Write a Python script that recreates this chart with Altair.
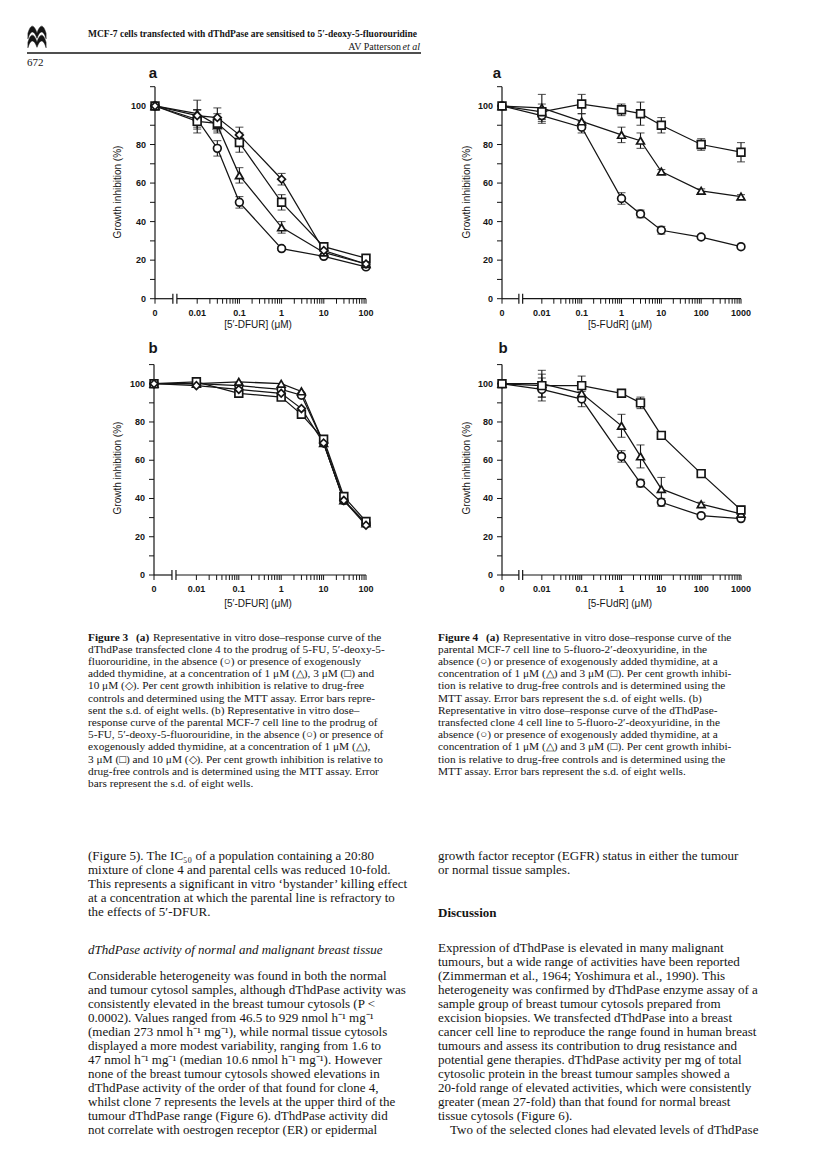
import altair as alt
import pandas as pd

# ======================= DATA =======================
# Figure 3a: dThdPase-transfected clone 4, [5'-DFUR] (uM); 0 = drug-free
DOSE_3A = [0, 0.01, 0.03, 0.1, 1, 10, 100]
F3A_CTRL = [100, 93, 78, 50, 26, 22, 16.5]
F3A_CTRL_SD = [0, 5, 4, 3, 1, 0, 0]
F3A_T1 = [100, 96, 90, 64, 37, 24, 18]
F3A_T1_SD = [0, 7, 3, 4, 3, 0, 0]
F3A_T3 = [100, 92, 91, 81, 50, 27, 21]
F3A_T3_SD = [0, 6, 5, 5, 4, 0, 0]
F3A_T10 = [100, 95, 94, 85, 62, 25, 18]
F3A_T10_SD = [0, 3, 5, 4, 3, 0, 0]

# Figure 3b: parental MCF-7, [5'-DFUR] (uM)
DOSE_3B = [0, 0.01, 0.1, 1, 3, 10, 30, 100]
F3B_CTRL = [100, 100, 99, 97, 94, 69, 39, 27]
F3B_T1 = [100, 100, 101, 100, 96, 69, 39, 27]
F3B_T3 = [100, 101, 95, 93, 84, 71, 41, 28]
F3B_T10 = [100, 99, 97, 95, 87, 69, 39, 26]
F3B_SD = [0, 0, 0, 0, 0, 0, 0, 0]

# Figure 4a: parental MCF-7, [5-FUdR] (uM)
DOSE_4 = [0, 0.01, 0.1, 1, 3, 10, 100, 1000]
F4A_CTRL = [100, 95, 89, 52, 44, 35.5, 32, 27]
F4A_CTRL_SD = [0, 4, 3, 3, 2, 2, 1, 1]
F4A_T1 = [100, 99, 92, 85, 82, 66, 56, 53]
F4A_T1_SD = [0, 7, 4, 4, 4, 1, 1, 1]
F4A_T3 = [100, 97, 101, 98, 96, 90, 80, 76]
F4A_T3_SD = [0, 4, 5, 3, 6, 4, 3, 5]

# Figure 4b: clone 4, [5-FUdR] (uM)
F4B_CTRL = [100, 97, 92, 62, 48, 38, 31, 29.5]
F4B_CTRL_SD = [0, 6, 4, 3, 2, 2, 1, 1]
F4B_T1 = [100, 100, 95, 78, 62, 45, 37, 32]
F4B_T1_SD = [0, 7, 3, 6, 6, 6, 1, 1]
F4B_T3 = [100, 99, 99, 95, 90, 73, 53, 34]
F4B_T3_SD = [0, 6, 5, 2, 3, 1, 1, 2]

SERIES = ["none", "1 \u03bcM", "3 \u03bcM", "10 \u03bcM"]
SHAPES = ["circle", "triangle-up", "square", "diamond"]

# axis ticks / labels
Y_TICKS = [0, 10, 20, 30, 40, 50, 60, 70, 80, 90, 100, 110]
Y_LABEL_POS = [0, 20, 40, 60, 80, 100]
Y_LABELS = ["0", "20", "40", "60", "80", "100"]
X_LABEL_POS_3 = [0, 0.01, 0.1, 1, 10, 100]
X_LABELS_3 = ["0", "0.01", "0.1", "1", "10", "100"]
X_LABEL_POS_4 = [0, 0.01, 0.1, 1, 10, 100, 1000]
X_LABELS_4 = ["0", "0.01", "0.1", "1", "10", "100", "1000"]
X_DECADES = [0.01, 0.1, 1, 10, 100, 1000]
X_MULT = [1, 2, 3, 4, 5, 6, 7, 8, 9]

# ======================= TEXT =======================
HEADER_TITLE = "MCF-7 cells transfected with dThdPase are sensitised to 5\u2032-deoxy-5-fluorouridine"
HEADER_AUTHOR = "AV Patterson"
HEADER_ETAL = "et al"
PAGE_NO = "672"
Y_TITLE = "Growth inhibition (%)"
X_TITLE_3 = "[5\u2032-DFUR] (\u03bcM)"
X_TITLE_4 = "[5-FUdR] (\u03bcM)"

CAP_A = "(a)"
CAP3_FIRST = "Representative in vitro dose\u2013response curve of the"
CAP3 = [
    "dThdPase transfected clone 4 to the prodrug of 5-FU, 5\u2032-deoxy-5-",
    "fluorouridine, in the absence (\u25cb) or presence of exogenously",
    "added thymidine, at a concentration of 1 \u03bcM (\u25b3), 3 \u03bcM (\u25a1) and",
    "10 \u03bcM (\u25c7). Per cent growth inhibition is relative to drug-free",
    "controls and determined using the MTT assay. Error bars repre-",
    "sent the s.d. of eight wells. (b) Representative in vitro dose\u2013",
    "response curve of the parental MCF-7 cell line to the prodrug of",
    "5-FU, 5\u2032-deoxy-5-fluorouridine, in the absence (\u25cb) or presence of",
    "exogenously added thymidine, at a concentration of 1 \u03bcM (\u25b3),",
    "3 \u03bcM (\u25a1) and 10 \u03bcM (\u25c7). Per cent growth inhibition is relative to",
    "drug-free controls and is determined using the MTT assay. Error",
    "bars represent the s.d. of eight wells.",
]
CAP4_FIRST = "Representative in vitro dose\u2013response curve of the"
CAP4 = [
    "parental MCF-7 cell line to 5-fluoro-2\u2032-deoxyuridine, in the",
    "absence (\u25cb) or presence of exogenously added thymidine, at a",
    "concentration of 1 \u03bcM (\u25b3) and 3 \u03bcM (\u25a1). Per cent growth inhibi-",
    "tion is relative to drug-free controls and is determined using the",
    "MTT assay. Error bars represent the s.d. of eight wells. (b)",
    "Representative in vitro dose\u2013response curve of the dThdPase-",
    "transfected clone 4 cell line to 5-fluoro-2\u2032-deoxyuridine, in the",
    "absence (\u25cb) or presence of exogenously added thymidine, at a",
    "concentration of 1 \u03bcM (\u25b3) and 3 \u03bcM (\u25a1). Per cent growth inhibi-",
    "tion is relative to drug-free controls and is determined using the",
    "MTT assay. Error bars represent the s.d. of eight wells.",
]
BODY_L1 = [
    "(Figure 5). The IC\u2085\u2080 of a population containing a 20:80",
    "mixture of clone 4 and parental cells was reduced 10-fold.",
    "This represents a significant in vitro \u2018bystander\u2019 killing effect",
    "at a concentration at which the parental line is refractory to",
    "the effects of 5\u2032-DFUR.",
]
HEAD_L = "dThdPase activity of normal and malignant breast tissue"
BODY_L2 = [
    "Considerable heterogeneity was found in both the normal",
    "and tumour cytosol samples, although dThdPase activity was",
    "consistently elevated in the breast tumour cytosols (P <",
    "0.0002). Values ranged from 46.5 to 929 nmol h\u207b\u00b9 mg\u207b\u00b9",
    "(median 273 nmol h\u207b\u00b9 mg\u207b\u00b9), while normal tissue cytosols",
    "displayed a more modest variability, ranging from 1.6 to",
    "47 nmol h\u207b\u00b9 mg\u207b\u00b9 (median 10.6 nmol h\u207b\u00b9 mg\u207b\u00b9). However",
    "none of the breast tumour cytosols showed elevations in",
    "dThdPase activity of the order of that found for clone 4,",
    "whilst clone 7 represents the levels at the upper third of the",
    "tumour dThdPase range (Figure 6). dThdPase activity did",
    "not correlate with oestrogen receptor (ER) or epidermal",
]
BODY_R1 = [
    "growth factor receptor (EGFR) status in either the tumour",
    "or normal tissue samples.",
]
HEAD_R = "Discussion"
BODY_R2 = [
    "Expression of dThdPase is elevated in many malignant",
    "tumours, but a wide range of activities have been reported",
    "(Zimmerman et al., 1964; Yoshimura et al., 1990). This",
    "heterogeneity was confirmed by dThdPase enzyme assay of a",
    "sample group of breast tumour cytosols prepared from",
    "excision biopsies. We transfected dThdPase into a breast",
    "cancer cell line to reproduce the range found in human breast",
    "tumours and assess its contribution to drug resistance and",
    "potential gene therapies. dThdPase activity per mg of total",
    "cytosolic protein in the breast tumour samples showed a",
    "20-fold range of elevated activities, which were consistently",
    "greater (mean 27-fold) than that found for normal breast",
    "tissue cytosols (Figure 6).",
]
BODY_R3 = ["Two of the selected clones had elevated levels of dThdPase"]

# ======================= LAYOUT / STYLE =======================
W, H, M = 800, 1153, 8          # svg size and page margin
INK = "#151515"
SERIF = "Liberation Serif"
SANS = "Liberation Sans"
NARROW = "Liberation Sans Narrow"
ZERO_AT = 0.001                  # where the drug-free (0) dose sits on the log axis
BRK = (0.00265, 0.0033)          # axis break

GEO = {
    "3a": dict(xr=[155, 366], yr=[298.7, 86.7], xmax=100),
    "4a": dict(xr=[502, 741], yr=[298.7, 86.7], xmax=1000),
    "3b": dict(xr=[154, 366], yr=[575, 364.6], xmax=100),
    "4b": dict(xr=[502, 741], yr=[575, 364.6], xmax=1000),
}

TICK_LEFT = "M -1 0 L 0 0"
TICK_DOWN = "M 0 0 L 0 1"
TICK_BOTH = "M 0 -1 L 0 1"


def long_df(dose, groups):
    rows = []
    for name, vals, sds in groups:
        for d, v, s in zip(dose, vals, sds):
            rows.append(dict(xpos=d if d > 0 else ZERO_AT, val=v, sd=s,
                             lo=v - s, hi=v + s, series=name))
    return pd.DataFrame(rows)


def x_tick_values(xmax):
    vals = [ZERO_AT]
    for d in X_DECADES:
        for m in X_MULT:
            v = round(d * m, 6)
            if v <= xmax:
                vals.append(v)
    return vals


def panel(df, key, xlab_pos, xlabs):
    g = GEO[key]
    xr = [g["xr"][0] - M, g["xr"][1] - M]
    yr = [g["yr"][0] - M, g["yr"][1] - M]
    xs = alt.Scale(type="log", domain=[ZERO_AT, g["xmax"]], range=xr, nice=False)
    ys = alt.Scale(type="linear", domain=[0, 110], range=yr, nice=False, zero=False)

    def X(f):
        return alt.X(f, scale=xs, axis=None)

    def Y(f):
        return alt.Y(f, scale=ys, axis=None)

    base = alt.Chart(df)
    lines = base.mark_line(color=INK, strokeWidth=1.25).encode(
        x=X("xpos:Q"), y=Y("val:Q"), detail="series:N")
    eb = base.transform_filter("datum.sd > 0")
    bars = eb.mark_rule(color=INK, strokeWidth=1.1).encode(
        x=X("xpos:Q"), y=Y("lo:Q"), y2="hi:Q")
    cap_lo = eb.mark_tick(color=INK, orient="horizontal", size=8, thickness=1.1).encode(
        x=X("xpos:Q"), y=Y("lo:Q"))
    cap_hi = eb.mark_tick(color=INK, orient="horizontal", size=8, thickness=1.1).encode(
        x=X("xpos:Q"), y=Y("hi:Q"))
    pts = base.mark_point(filled=True, fill="white", stroke=INK, strokeWidth=1.7,
                          size=60, opacity=1).encode(
        x=X("xpos:Q"), y=Y("val:Q"),
        shape=alt.Shape("series:N", scale=alt.Scale(domain=SERIES, range=SHAPES),
                        legend=None))

    # ---- hand-drawn axes (through the same scales) ----
    seg = pd.DataFrame({"a": [ZERO_AT, BRK[1]], "b": [BRK[0], g["xmax"]], "y": [0, 0]})
    x_line = alt.Chart(seg).mark_rule(color=INK, strokeWidth=1.2).encode(
        x=X("a:Q"), x2="b:Q", y=Y("y:Q"))
    y_line = alt.Chart(pd.DataFrame({"x": [ZERO_AT], "y1": [0], "y2": [110]})).mark_rule(
        color=INK, strokeWidth=1.2).encode(x=X("x:Q"), y=Y("y1:Q"), y2="y2:Q")
    brk = alt.Chart(pd.DataFrame({"a": list(BRK), "y": [0, 0]})).mark_point(
        shape=TICK_BOTH, size=100, stroke=INK, strokeWidth=1.2, filled=False,
        opacity=1).encode(x=X("a:Q"), y=Y("y:Q"))
    xt = x_tick_values(g["xmax"])
    x_ticks = alt.Chart(pd.DataFrame({"x": xt, "y": [0] * len(xt)})).mark_point(
        shape=TICK_DOWN, size=100, stroke=INK, strokeWidth=1, filled=False,
        opacity=1).encode(x=X("x:Q"), y=Y("y:Q"))
    y_ticks = alt.Chart(pd.DataFrame({"x": [ZERO_AT] * len(Y_TICKS), "y": Y_TICKS})).mark_point(
        shape=TICK_LEFT, size=100, stroke=INK, strokeWidth=1, filled=False,
        opacity=1).encode(x=X("x:Q"), y=Y("y:Q"))
    xl = pd.DataFrame({"x": [p if p > 0 else ZERO_AT for p in xlab_pos],
                       "y": [0] * len(xlab_pos), "t": xlabs})
    x_labels = alt.Chart(xl).mark_text(
        font=SANS, fontSize=9, fontWeight="bold", color=INK, align="center",
        baseline="middle", dy=14).encode(x=X("x:Q"), y=Y("y:Q"), text="t:N")
    yl = pd.DataFrame({"x": [ZERO_AT] * len(Y_LABEL_POS), "y": Y_LABEL_POS, "t": Y_LABELS})
    y_labels = alt.Chart(yl).mark_text(
        font=SANS, fontSize=9, fontWeight="bold", color=INK, align="right",
        baseline="middle", dx=-9).encode(x=X("x:Q"), y=Y("y:Q"), text="t:N")

    return alt.layer(x_line, y_line, brk, x_ticks, y_ticks, x_labels, y_labels,
                     lines, bars, cap_lo, cap_hi, pts)


df3a = long_df(DOSE_3A, [(SERIES[0], F3A_CTRL, F3A_CTRL_SD), (SERIES[1], F3A_T1, F3A_T1_SD),
                         (SERIES[2], F3A_T3, F3A_T3_SD), (SERIES[3], F3A_T10, F3A_T10_SD)])
df3b = long_df(DOSE_3B, [(SERIES[0], F3B_CTRL, F3B_SD), (SERIES[1], F3B_T1, F3B_SD),
                         (SERIES[2], F3B_T3, F3B_SD), (SERIES[3], F3B_T10, F3B_SD)])
df4a = long_df(DOSE_4, [(SERIES[0], F4A_CTRL, F4A_CTRL_SD), (SERIES[1], F4A_T1, F4A_T1_SD),
                        (SERIES[2], F4A_T3, F4A_T3_SD)])
df4b = long_df(DOSE_4, [(SERIES[0], F4B_CTRL, F4B_CTRL_SD), (SERIES[1], F4B_T1, F4B_T1_SD),
                        (SERIES[2], F4B_T3, F4B_T3_SD)])


# ---------------- text layers ----------------
def rows(lines, x, y0, dy, size):
    return [dict(t=s, px=x - M, py=y0 + i * dy - M, fs=size) for i, s in enumerate(lines)]


def text_layer(recs, font, weight="normal", style="normal", align="left",
               baseline="alphabetic", angle=0):
    return alt.Chart(pd.DataFrame(recs)).mark_text(
        font=font, fontWeight=weight, fontStyle=style, align=align,
        baseline=baseline, angle=angle, color=INK).encode(
        x=alt.X("px:Q", scale=None, axis=None),
        y=alt.Y("py:Q", scale=None, axis=None),
        size=alt.Size("fs:Q", scale=None, legend=None),
        text="t:N")


CAP_SIZE, CAP_DY, CAP_Y0 = 11.3, 12.2, 640.5
BODY_SIZE, BODY_DY = 13, 14

serif_regular = (
    rows([CAP3_FIRST], 153, CAP_Y0, CAP_DY, CAP_SIZE)
    + rows(CAP3, 88, CAP_Y0 + CAP_DY, CAP_DY, CAP_SIZE)
    + rows([CAP4_FIRST], 503, CAP_Y0, CAP_DY, CAP_SIZE)
    + rows(CAP4, 438, CAP_Y0 + CAP_DY, CAP_DY, CAP_SIZE)
    + rows(BODY_L1, 88, 860, BODY_DY, BODY_SIZE)
    + rows(BODY_L2, 88, 980, BODY_DY, BODY_SIZE)
    + rows(BODY_R1, 438, 860, BODY_DY, BODY_SIZE)
    + rows(BODY_R2, 438, 952, BODY_DY, BODY_SIZE)
    + rows(BODY_R3, 450, 952 + 13 * BODY_DY, BODY_DY, BODY_SIZE)
)
serif_bold = (rows(["Figure 3"], 88, CAP_Y0, 0, CAP_SIZE)
              + rows([CAP_A], 136, CAP_Y0, 0, CAP_SIZE)
              + rows(["Figure 4"], 438, CAP_Y0, 0, CAP_SIZE)
              + rows([CAP_A], 486, CAP_Y0, 0, CAP_SIZE)
              + rows([HEAD_R], 438, 917, 0, BODY_SIZE))
serif_italic = rows([HEAD_L], 88, 954, 0, BODY_SIZE)

header_bold = rows([HEADER_TITLE], 88, 37, 0, 9.5)
header_right = rows([HEADER_AUTHOR], 401, 49.5, 0, 10)
header_italic = rows([HEADER_ETAL], 420, 49.5, 0, 10)
header_page = rows([PAGE_NO], 27, 66, 0, 11)

letters = (rows(["a"], 153, 73, 0, 15) + rows(["a"], 497, 73, 0, 15)
           + rows(["b"], 153, 348, 0, 15) + rows(["b"], 503, 348, 0, 15))
x_titles = (rows([X_TITLE_3], 258, 325, 0, 10) + rows([X_TITLE_4], 620, 325, 0, 10)
            + rows([X_TITLE_3], 258, 604, 0, 10) + rows([X_TITLE_4], 620, 604, 0, 10))
y_titles = (rows([Y_TITLE], 118, 192, 0, 10) + rows([Y_TITLE], 467, 192, 0, 10)
            + rows([Y_TITLE], 118, 468, 0, 10) + rows([Y_TITLE], 467, 468, 0, 10))

texts = [
    text_layer(serif_regular, SERIF),
    text_layer(serif_bold, SERIF, weight="bold"),
    text_layer(serif_italic, SERIF, style="italic"),
    text_layer(header_bold, NARROW, weight="bold"),
    text_layer(header_right, NARROW, align="right"),
    text_layer(header_italic, NARROW, style="italic", align="right"),
    text_layer(header_page, NARROW),
    text_layer(letters, SANS, weight="bold", align="center", baseline="middle"),
    text_layer(x_titles, SANS, align="center", baseline="middle"),
    text_layer(y_titles, SANS, align="center", baseline="middle", angle=270),
]

header_rule = alt.Chart(pd.DataFrame({"k": [0]})).mark_rule(
    color=INK, strokeWidth=1.6).encode(
    x=alt.value(27 - M), x2=alt.value(421 - M), y=alt.value(53 - M))
WAVE = ("M -1 0.15 C -0.7 -0.9 -0.35 -0.9 0 0.1 C 0.35 -0.9 0.7 -0.9 1 0.15 "
        "L 1 0.75 C 0.7 -0.25 0.35 -0.25 0 0.7 C -0.35 -0.25 -0.7 -0.25 -1 0.75 Z")
logo_df = pd.DataFrame({"px": [37 - M, 37 - M], "py": [32 - M, 41 - M]})
logo = alt.Chart(logo_df).mark_point(
    shape=WAVE, filled=True, fill=INK, stroke=INK, strokeWidth=0.5, size=330, opacity=1
).encode(x=alt.X("px:Q", scale=None, axis=None), y=alt.Y("py:Q", scale=None, axis=None))

chart = alt.layer(
    panel(df3a, "3a", X_LABEL_POS_3, X_LABELS_3),
    panel(df4a, "4a", X_LABEL_POS_4, X_LABELS_4),
    panel(df3b, "3b", X_LABEL_POS_3, X_LABELS_3),
    panel(df4b, "4b", X_LABEL_POS_4, X_LABELS_4),
    header_rule, logo, *texts
).resolve_scale(x="independent", y="independent").properties(
    width=W, height=H, padding=0,
    autosize=alt.AutoSizeParams(type="none"),
    background="white",
).configure_view(stroke=None)

chart.save("out.html", embed_options={"renderer": "svg", "actions": False})
